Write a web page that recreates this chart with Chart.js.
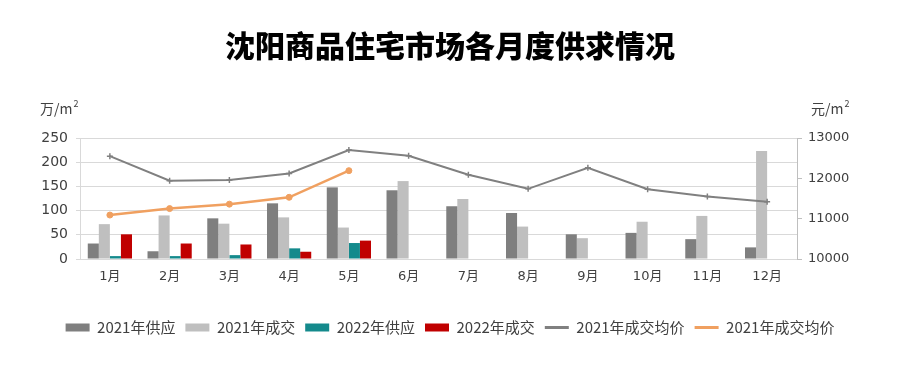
<!DOCTYPE html>
<html>
<head>
<meta charset="utf-8">
<script src="https://cdn.jsdelivr.net/npm/chart.js@4"></script>
<style>
  html, body { margin: 0; padding: 0; background: #fff; }
  #wrap { position: relative; width: 900px; height: 369px; }
  #title {
    position: absolute; left: 0; top: 26px; width: 900px; text-align: center;
    font-family: "Noto Sans CJK SC", sans-serif; font-weight: 900; font-size: 30px;
    line-height: 36px; color: #000;
  }
</style>
</head>
<body>
<div id="wrap">
  <div id="title">沈阳商品住宅市场各月度供求情况</div>
  <canvas id="chart" width="900" height="369"></canvas>
</div>
<script>
const months = ['1月', '2月', '3月', '4月', '5月', '6月', '7月', '8月', '9月', '10月', '11月', '12月'];
const supply2021 = [32, 16, 84, 115, 148, 142, 109, 95, 51, 54, 41, 24];
const deals2021 = [72, 90, 73, 86, 65, 161, 124, 67, 43, 77, 89, 223];
const supply2022 = [6, 6, 8, 22, 33, null, null, null, null, null, null, null];
const deals2022 = [51, 32, 30, 15, 38, null, null, null, null, null, null, null];
const price2021 = [12550, 11940, 11960, 12120, 12700, 12560, 12090, 11740, 12260, 11730, 11550, 11420];
const price2022 = [11090, 11250, 11360, 11530, 12190, null, null, null, null, null, null, null];

const fontFamily = '"DejaVu Sans", "Noto Sans CJK SC", sans-serif';

// unit captions above both y axes, "m" with a raised 2
const unitLabels = {
  id: 'unitLabels',
  afterDraw(chart) {
    const ctx = chart.ctx;
    ctx.save();
    ctx.fillStyle = '#404040';
    ctx.textBaseline = 'alphabetic';
    ctx.textAlign = 'left';
    [['万/m', 40], ['元/m', 811]].forEach(([txt, x]) => {
      ctx.font = '14px "Noto Sans CJK SC", sans-serif';
      ctx.fillText(txt, x, 114);
      const w = ctx.measureText(txt).width;
      ctx.font = '9px "Noto Sans CJK SC", sans-serif';
      ctx.fillText('2', x + w + 1, 107);
    });
    ctx.restore();
  }
};

new Chart(document.getElementById('chart'), {
  data: {
    labels: months,
    datasets: [
      { type: 'bar', label: '2021年供应', data: supply2021, backgroundColor: '#7f7f7f', yAxisID: 'y', order: 3 },
      { type: 'bar', label: '2021年成交', data: deals2021, backgroundColor: '#bfbfbf', yAxisID: 'y', order: 3 },
      { type: 'bar', label: '2022年供应', data: supply2022, backgroundColor: '#148a8c', yAxisID: 'y', order: 3 },
      { type: 'bar', label: '2022年成交', data: deals2022, backgroundColor: '#c00000', yAxisID: 'y', order: 3 },
      { type: 'line', label: '2021年成交均价', data: price2021, borderColor: '#808080', backgroundColor: '#808080',
        borderWidth: 2, pointStyle: 'cross', pointRadius: 3, pointBorderWidth: 1.5, yAxisID: 'y1', order: 1, tension: 0 },
      { type: 'line', label: '2021年成交均价', data: price2022, borderColor: '#f0a060', backgroundColor: '#f0a060',
        borderWidth: 2.5, pointStyle: 'circle', pointRadius: 3, pointBorderWidth: 1, yAxisID: 'y1', order: 0, tension: 0 }
    ]
  },
  options: {
    responsive: false,
    animation: false,
    datasets: { bar: { categoryPercentage: 0.74, barPercentage: 1.0 } },
    layout: { padding: { top: 138, left: 0, right: 0, bottom: 24 } },
    plugins: {
      title: { display: false },
      tooltip: { enabled: false },
      legend: {
        position: 'bottom',
        labels: {
          color: '#404040',
          font: { family: '"Noto Sans CJK SC", sans-serif', size: 15 },
          usePointStyle: true,
          pointStyleWidth: 24,
          boxHeight: 8,
          padding: 10,
          generateLabels(chart) {
            return chart.data.datasets.map((ds, i) => ({
              text: ds.label,
              fillStyle: ds.backgroundColor,
              strokeStyle: ds.borderColor || ds.backgroundColor,
              lineWidth: ds.type === 'line' ? 3 : 0,
              pointStyle: ds.type === 'line' ? 'line' : 'rect',
              fontColor: '#404040',
              hidden: false,
              datasetIndex: i
            }));
          }
        }
      }
    },
    scales: {
      x: {
        grid: { display: false, drawTicks: false },
        border: { display: false },
        ticks: { color: '#404040', font: { family: fontFamily, size: 13 }, padding: 10 },
        afterFit(scale) { scale.height = 51; }
      },
      y: {
        position: 'left',
        min: 0, max: 250,
        ticks: { stepSize: 50, color: '#404040', font: { family: fontFamily, size: 14 }, padding: 8 },
        grid: { color: '#d9d9d9', lineWidth: 1, tickLength: 4 },
        border: { display: true, color: '#d9d9d9' },
        afterFit(scale) { scale.width = 80; }
      },
      y1: {
        position: 'right',
        min: 10000, max: 13000,
        ticks: { stepSize: 1000, color: '#404040', font: { family: fontFamily, size: 13 }, padding: 6,
          callback: v => String(v) },
        grid: { drawOnChartArea: false, color: '#bfbfbf', tickLength: 5 },
        border: { display: true, color: '#bfbfbf' },
        afterFit(scale) { scale.width = 103; }
      }
    }
  },
  plugins: [unitLabels]
});
</script>
</body>
</html>
